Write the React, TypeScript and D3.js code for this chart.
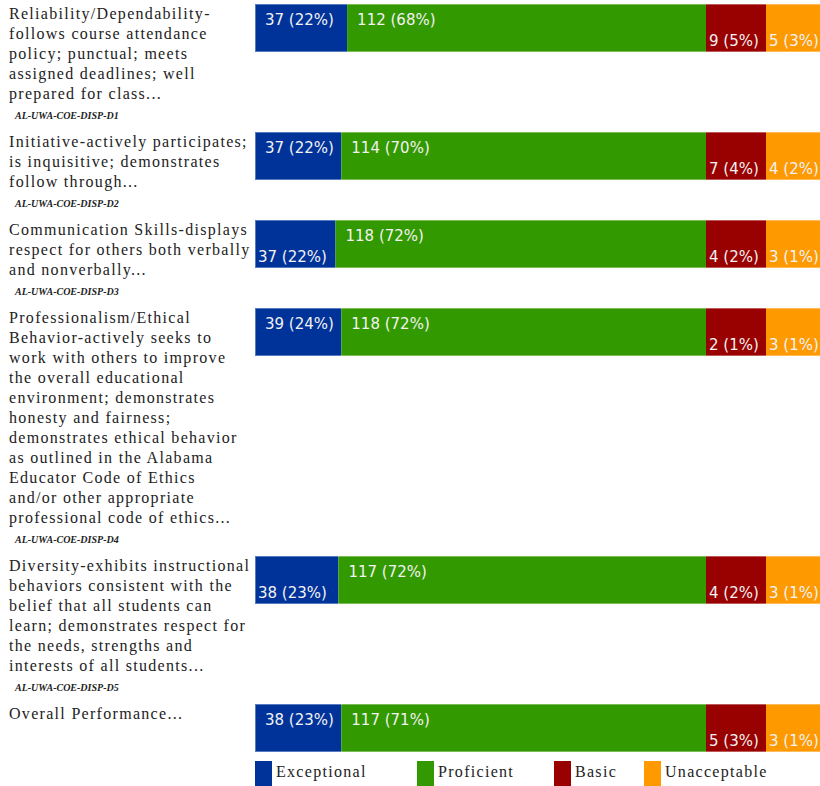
import React from "react";
import * as d3 from "d3";

const CATEGORY_LINES: string[][] = [
  ["Reliability/Dependability-", "follows course attendance", "policy; punctual; meets", "assigned deadlines; well", "prepared for class..."],
  ["Initiative-actively participates;", "is inquisitive; demonstrates", "follow through..."],
  ["Communication Skills-displays", "respect for others both verbally", "and nonverbally..."],
  ["Professionalism/Ethical", "Behavior-actively seeks to", "work with others to improve", "the overall educational", "environment; demonstrates", "honesty and fairness;", "demonstrates ethical behavior", "as outlined in the Alabama", "Educator Code of Ethics", "and/or other appropriate", "professional code of ethics..."],
  ["Diversity-exhibits instructional", "behaviors consistent with the", "belief that all students can", "learn; demonstrates respect for", "the needs, strengths and", "interests of all students..."],
  ["Overall Performance..."],
];
const CATEGORY_CODES = ["AL-UWA-COE-DISP-D1", "AL-UWA-COE-DISP-D2", "AL-UWA-COE-DISP-D3", "AL-UWA-COE-DISP-D4", "AL-UWA-COE-DISP-D5", ""];

const SERIES = ["Exceptional", "Proficient", "Basic", "Unacceptable"];
const SERIES_COLORS = ["#003399", "#339900", "#990000", "#FF9900"];

const EXCEPTIONAL_N = [37, 37, 37, 39, 38, 38];
const PROFICIENT_N = [112, 114, 118, 118, 117, 117];
const BASIC_N = [9, 7, 4, 2, 4, 5];
const UNACCEPTABLE_N = [5, 4, 3, 3, 3, 3];

const EXCEPTIONAL_PCT = [22, 22, 22, 24, 23, 23];
const PROFICIENT_PCT = [68, 70, 72, 72, 72, 71];
const BASIC_PCT = [5, 4, 2, 1, 2, 3];
const UNACCEPTABLE_PCT = [3, 2, 1, 1, 1, 1];

const W = 820;
const H = 786;
const BAR_X0 = 255;
const BAR_W = 571;
const BAR_H = 48;
const MIN_SEG = 60;
const LINE_H = 20;
const TOP0 = 4;
const LABEL_CHAR_W = 8.7;
const LEGEND_OFFSETS = [0, 162, 299, 389];

const pctScale = d3.scaleLinear().domain([0, 100]).range([0, 580]);
const color = d3.scaleOrdinal<string, string>().domain(SERIES).range(SERIES_COLORS);

function layoutRow(pcts: number[]) {
  const raw = pcts.map((p) => pctScale(p));
  const fixed = raw.map((r) => r < MIN_SEG);
  const widths0 = raw.map((r, i) => (fixed[i] ? MIN_SEG : r));
  const overflow = d3.sum(widths0) - BAR_W;
  const nFlex = fixed.filter((f) => !f).length;
  const widths = widths0.map((w, i) => (fixed[i] ? w : w - overflow / nFlex));
  const ends = Array.from(d3.cumsum(widths));
  return widths.map((w, i) => ({ x: BAR_X0 + ends[i] - w, w }));
}

export default function App() {
  const counts = [EXCEPTIONAL_N, PROFICIENT_N, BASIC_N, UNACCEPTABLE_N];
  const pcts = [EXCEPTIONAL_PCT, PROFICIENT_PCT, BASIC_PCT, UNACCEPTABLE_PCT];

  const rowHeights = CATEGORY_LINES.map((lines, i) =>
    Math.max(BAR_H + 9, lines.length * LINE_H + (CATEGORY_CODES[i] ? 28 : 8))
  );
  const rowTops = rowHeights.map((_, i) => TOP0 + d3.sum(rowHeights.slice(0, i)));
  const lastBarBottom = rowTops[rowTops.length - 1] + BAR_H;
  const legendY = lastBarBottom + 9;

  return (
    <div style={{ position: "absolute", left: 0, top: 0, width: W, height: H, overflow: "hidden" }}>
      <svg width={W} height={H} style={{ display: "block", background: "#fff" }}>
        {CATEGORY_LINES.map((lines, r) => {
          const top = rowTops[r];
          const rowPcts = pcts.map((s) => s[r]);
          const segs = layoutRow(rowPcts);
          return (
            <g key={r}>
              <text
                fontFamily="'Liberation Serif', 'Times New Roman', serif"
                fontSize={16}
                letterSpacing={1.3}
                fill="#222"
              >
                {lines.map((ln, j) => (
                  <tspan key={j} x={9} y={top + 15 + j * LINE_H}>
                    {ln}
                  </tspan>
                ))}
              </text>
              {CATEGORY_CODES[r] && (
                <text
                  x={15}
                  y={top + 15 + (lines.length - 1) * LINE_H + 19.5}
                  fontFamily="'Liberation Serif', 'Times New Roman', serif"
                  fontSize={10}
                  fontStyle="italic"
                  fontWeight="bold"
                  fill="#222"
                >
                  {CATEGORY_CODES[r]}
                </text>
              )}
              {segs.map((s, k) => (
                <rect key={k} x={s.x} y={top} width={s.w} height={BAR_H} fill={color(SERIES[k])} />
              ))}
              <rect
                x={BAR_X0 + 0.5}
                y={top + 0.5}
                width={BAR_W - 1}
                height={BAR_H - 1}
                fill="none"
                stroke="#ffffff"
                strokeOpacity={0.35}
              />
              {segs.map((s, k) => {
                const label = `${counts[k][r]} (${rowPcts[k]}%)`;
                const tw = label.length * LABEL_CHAR_W;
                const onTop = s.w >= tw + 15;
                return (
                  <text
                    key={"l" + k}
                    x={onTop ? s.x + 10 : s.x + 3}
                    y={onTop ? top + 21 : top + BAR_H - 6}
                    fontFamily="'DejaVu Sans', Verdana, sans-serif"
                    fontSize={15}
                    fill="#f2f2f2"
                  >
                    {label}
                  </text>
                );
              })}
            </g>
          );
        })}
        {SERIES.map((name, k) => (
          <g key={name} transform={`translate(${BAR_X0 + LEGEND_OFFSETS[k]},${legendY})`}>
            <rect x={0} y={0} width={17} height={26} fill={color(name)} />
            <text
              x={21}
              y={16}
              fontFamily="'Liberation Serif', 'Times New Roman', serif"
              fontSize={16}
              letterSpacing={1.3}
              fill="#222"
            >
              {name}
            </text>
          </g>
        ))}
      </svg>
    </div>
  );
}
